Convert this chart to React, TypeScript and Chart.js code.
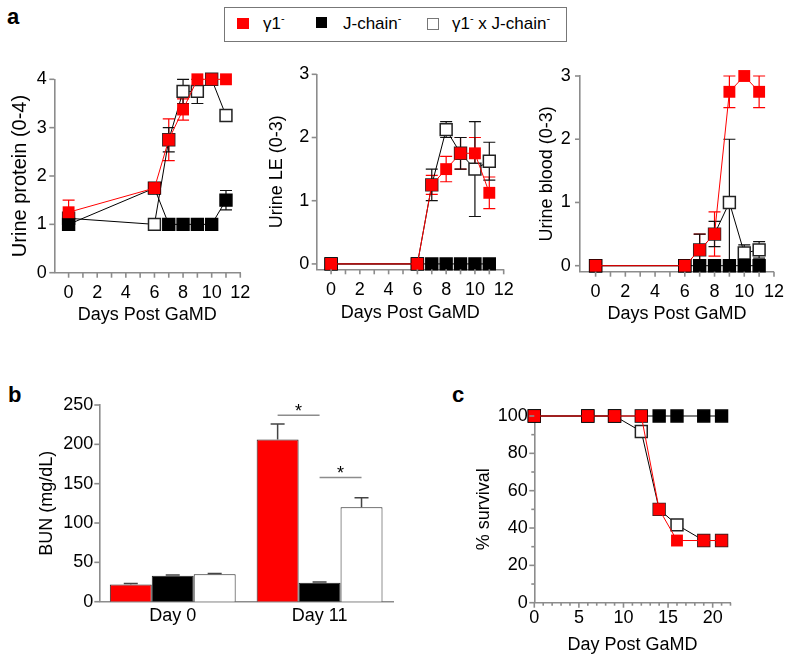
import React, { useEffect, useRef } from 'react';
import { Chart, registerables } from 'chart.js';
Chart.register(...registerables);

const FONT = "'Liberation Sans', Arial, Helvetica, sans-serif";
Chart.defaults.font.family = FONT;
Chart.defaults.color = '#000';

const RED = '#ff0000';
const AXIS = '#8c8c8c';
const AXW = 1.6;

// ---------- data ----------
const DAYS_A = [0, 6, 7, 8, 9, 10, 11];

const PROT_G1 = [1.25, 1.75, 2.75, 3.375, 4, 4, 4];
const PROT_G1_ERR = [0.25, 0, 0.43, 0.22, 0, 0, 0];
const PROT_J = [1, 1.75, 1, 1, 1, 1, 1.5];
const PROT_J_ERR = [0, 0, 0, 0, 0, 0, 0.2];
const PROT_GJ = [1.125, 1, 2.75, 3.75, 3.75, 4, 3.25];
const PROT_GJ_ERR = [0, 0, 0.25, 0.25, 0.25, 0, 0.1];

const LE_G1 = [0, 0, 1.25, 1.5, 1.75, 1.75, 1.125];
const LE_G1_ERR = [0, 0, 0.15, 0.2, 0.25, 0.25, 0.25];
const LE_J = [0, 0, 0, 0, 0, 0, 0];
const LE_J_ERR = [0, 0, 0, 0, 0, 0, 0];
const LE_GJ = [0, 0, 1.25, 2.125, 1.75, 1.5, 1.625];
const LE_GJ_ERR = [0, 0, 0.25, 0.125, 0.25, 0.75, 0.3];

const BLOOD_G1 = [0, 0, 0.25, 0.5, 2.75, 3, 2.75];
const BLOOD_G1_ERR = [0, 0, 0.25, 0.35, 0.25, 0, 0.25];
const BLOOD_J = [0, 0, 0, 0, 0, 0, 0];
const BLOOD_J_ERR = [0, 0, 0, 0, 0, 0, 0];
const BLOOD_GJ = [0, 0, 0.25, 0.5, 1, 0.2, 0.25];
const BLOOD_GJ_ERR = [0, 0, 0.25, 0.2, 1, 0.13, 0.13];

const A_X_TICKS = [0, 2, 4, 6, 8, 10, 12];
const A_X_MINOR = [1, 3, 5, 7, 9, 11];
const PROT_Y_TICKS = [0, 1, 2, 3, 4];
const SCORE3_Y_TICKS = [0, 1, 2, 3];

const BUN_CATS = ['Day 0', 'Day 11'];
const BUN_G1 = [22, 206];
const BUN_G1_ERR = [1, 20];
const BUN_J = [33, 24];
const BUN_J_ERR = [1, 1];
const BUN_GJ = [35, 120];
const BUN_GJ_ERR = [1, 12];
const BUN_Y_TICKS = [0, 50, 100, 150, 200, 250];
const BUN_SIG = [237, 158]; // Day 11: γ1 vs J-chain, J-chain vs γ1 x J-chain

const DAYS_C = [0, 6, 9, 12, 14, 16, 19, 21];
const SURV_G1 = [100, 100, 100, 100, 50, 33.3, 33.3, 33.3];
const SURV_J = [100, 100, 100, 100, 100, 100, 100, 100];
const SURV_GJ = [100, 100, 100, 91.7, 50, 41.7, 33.3, 33.3];
const C_X_TICKS = [0, 5, 10, 15, 20];
const C_X_MINOR = [1, 2, 3, 4, 6, 7, 8, 9, 11, 12, 13, 14, 16, 17, 18, 19, 21, 22];
const C_Y_TICKS = [0, 20, 40, 60, 80, 100];
const C_Y_MINOR = [10, 30, 50, 70, 90];

// ---------- plugins ----------
function drawErr(chart: any, after: boolean) {
  const ctx = chart.ctx;
  const ys = chart.scales.y;
  chart.data.datasets.forEach((ds: any, i: number) => {
    if (!ds.errs || !!ds.errAfter !== after) return;
    const meta = chart.getDatasetMeta(i);
    ctx.save();
    ctx.strokeStyle = ds.errColor;
    ctx.lineWidth = ds.errWidth || 1.2;
    const cap = ds.errCap || 6;
    meta.data.forEach((el: any, j: number) => {
      const e = ds.errs[j];
      if (!e) return;
      const raw = ds.data[j];
      const v = typeof raw === 'number' ? raw : raw.y;
      const x = el.x;
      const yt = ys.getPixelForValue(v + e);
      const yb = ds.oneSided ? ys.getPixelForValue(v) : ys.getPixelForValue(v - e);
      ctx.beginPath();
      ctx.moveTo(x, yt);
      ctx.lineTo(x, yb);
      ctx.moveTo(x - cap, yt);
      ctx.lineTo(x + cap, yt);
      if (!ds.oneSided) {
        ctx.moveTo(x - cap, yb);
        ctx.lineTo(x + cap, yb);
      }
      ctx.stroke();
    });
    ctx.restore();
  });
}
const errPlugin = {
  id: 'errBars',
  beforeDatasetsDraw(chart: any) { drawErr(chart, false); },
  afterDatasetsDraw(chart: any) { drawErr(chart, true); },
};

function makeTickPlugin(t: any) {
  return {
    id: 'tickMarks',
    afterDraw(chart: any) {
      const { ctx, chartArea: ca, scales } = chart;
      ctx.save();
      ctx.strokeStyle = AXIS;
      ctx.lineWidth = AXW;
      const hx = (vals: number[] | undefined, len: number) =>
        (vals || []).forEach((v) => {
          const p = scales.x.getPixelForValue(v);
          ctx.beginPath();
          ctx.moveTo(p, ca.bottom);
          ctx.lineTo(p, ca.bottom + len);
          ctx.stroke();
        });
      const hy = (vals: number[] | undefined, len: number) =>
        (vals || []).forEach((v) => {
          const p = scales.y.getPixelForValue(v);
          ctx.beginPath();
          ctx.moveTo(ca.left, p);
          ctx.lineTo(ca.left - len, p);
          ctx.stroke();
        });
      hx(t.xMajor, t.xMajorLen || 5);
      hx(t.xMinor, t.xMinorLen || 5);
      hy(t.yMajor, t.yMajorLen || 5);
      hy(t.yMinor, t.yMinorLen || 3);
      ctx.restore();
    },
  };
}

const sigPlugin = {
  id: 'sig',
  afterDatasetsDraw(chart: any) {
    const ctx = chart.ctx;
    const ys = chart.scales.y;
    const m0 = chart.getDatasetMeta(0).data[1];
    const m1 = chart.getDatasetMeta(1).data[1];
    const m2 = chart.getDatasetMeta(2).data[1];
    const pairs = [[m0.x, m1.x, BUN_SIG[0]], [m1.x, m2.x, BUN_SIG[1]]];
    ctx.save();
    pairs.forEach(([a, b, v]) => {
      const y = ys.getPixelForValue(v);
      ctx.strokeStyle = AXIS;
      ctx.lineWidth = 1.5;
      ctx.beginPath();
      ctx.moveTo(a, y);
      ctx.lineTo(b, y);
      ctx.stroke();
      ctx.fillStyle = '#000';
      ctx.font = `18px ${FONT}`;
      ctx.textAlign = 'center';
      ctx.textBaseline = 'alphabetic';
      ctx.fillText('*', (a + b) / 2, y + 2);
    });
    ctx.restore();
  },
};

// ---------- helpers ----------
function lineSets(x: number[], g1: number[], g1e: number[], j: number[], je: number[], gj: number[], gje: number[], errCap = 6) {
  const pts = (ys: number[]) => x.map((d, i) => ({ x: d, y: ys[i] }));
  const common = { showLine: true, borderWidth: 1, pointStyle: 'rect', pointRadius: 8.4, pointHoverRadius: 8.4, clip: false, fill: false, tension: 0, errCap };
  return [
    { ...common, label: 'γ1-', data: pts(g1), errs: g1e, errColor: RED, borderColor: RED, pointBackgroundColor: RED, pointBorderColor: RED, pointBorderWidth: 0 },
    { ...common, label: 'J-chain-', data: pts(j), errs: je, errColor: '#111', borderColor: '#000', pointBackgroundColor: '#000', pointBorderColor: '#000', pointBorderWidth: 1.5 },
    { ...common, label: 'γ1- x J-chain-', data: pts(gj), errs: gje, errColor: '#111', borderColor: '#000', pointBackgroundColor: '#fff', pointBorderColor: '#222', pointBorderWidth: 1.5 },
  ];
}

function xAxis(o: any) {
  return {
    type: o.type || 'linear',
    min: o.min,
    max: o.max,
    grid: { display: false, drawTicks: false },
    border: { display: true, color: AXIS, width: AXW },
    afterBuildTicks: o.ticks ? (s: any) => { s.ticks = o.ticks.map((v: number) => ({ value: v })); } : undefined,
    afterFit: (s: any) => { s.height = o.H; },
    ticks: { autoSkip: false, maxRotation: 0, minRotation: 0, padding: o.pad, font: { size: 18 }, color: '#000' },
    title: o.title
      ? { display: true, text: o.title, font: { size: 18 }, color: '#000', padding: { top: 0, bottom: o.titlePad } }
      : { display: false },
  };
}
function yAxis(o: any) {
  return {
    type: 'linear',
    min: o.min,
    max: o.max,
    grid: { display: false, drawTicks: false },
    border: { display: true, color: AXIS, width: AXW },
    afterBuildTicks: (s: any) => { s.ticks = o.ticks.map((v: number) => ({ value: v })); },
    afterFit: (s: any) => { s.width = o.W; },
    ticks: { autoSkip: false, padding: o.pad, font: { size: 18 }, color: '#000' },
    title: { display: true, text: o.title, font: { size: o.titleSize || 18 }, color: '#000', padding: { top: o.titlePad, bottom: 0 } },
  };
}

function baseOptions(R: number, T: number, scales: any) {
  return {
    responsive: false,
    animation: false,
    events: [],
    layout: { padding: { left: 0, right: R, top: T, bottom: 0 } },
    plugins: { legend: { display: false }, tooltip: { enabled: false } },
    scales,
  };
}

// ---------- configs ----------
function configProtein() {
  return {
    type: 'line',
    data: { datasets: lineSets(DAYS_A, PROT_G1, PROT_G1_ERR, PROT_J, PROT_J_ERR, PROT_GJ, PROT_GJ_ERR) },
    options: baseOptions(10.7, 29.3, {
      x: xAxis({ min: -1, max: 12, ticks: A_X_TICKS, H: 57.3, pad: 9.7, title: 'Days Post GaMD', titlePad: 4.2 }),
      y: yAxis({ min: 0, max: 4, ticks: PROT_Y_TICKS, W: 54.3, pad: 7.6, title: 'Urine protein (0-4)', titleSize: 20, titlePad: 8 }),
    }),
    plugins: [errPlugin, makeTickPlugin({ xMajor: A_X_TICKS, xMinor: A_X_MINOR, yMajor: PROT_Y_TICKS })],
  };
}
function configLE() {
  return {
    type: 'line',
    data: { datasets: lineSets(DAYS_A, LE_G1, LE_G1_ERR, LE_J, LE_J_ERR, LE_GJ, LE_GJ_ERR) },
    options: baseOptions(11.7, 24.3, {
      x: xAxis({ min: -1, max: 12, ticks: A_X_TICKS, H: 60.7, pad: 10.3, title: 'Days Post GaMD', titlePad: 5.9 }),
      y: yAxis({ min: -0.085, max: 3, ticks: SCORE3_Y_TICKS, W: 54.7, pad: 7.4, title: 'Urine LE (0-3)', titlePad: 4.2 }),
    }),
    plugins: [errPlugin, makeTickPlugin({ xMajor: A_X_TICKS, xMinor: A_X_MINOR, yMajor: SCORE3_Y_TICKS })],
  };
}
function configBlood() {
  return {
    type: 'line',
    data: { datasets: lineSets(DAYS_A, BLOOD_G1, BLOOD_G1_ERR, BLOOD_J, BLOOD_J_ERR, BLOOD_GJ, BLOOD_GJ_ERR) },
    options: baseOptions(18, 26, {
      x: xAxis({ min: -1.05, max: 12, ticks: A_X_TICKS, H: 58.3, pad: 10, title: 'Days Post GaMD', titlePad: 5.2 }),
      y: yAxis({ min: -0.095, max: 3, ticks: SCORE3_Y_TICKS, W: 56, pad: 9.3, title: 'Urine blood (0-3)', titlePad: 12.5 }),
    }),
    plugins: [errPlugin, makeTickPlugin({ xMajor: A_X_TICKS, xMinor: A_X_MINOR, yMajor: SCORE3_Y_TICKS })],
  };
}
function configBUN() {
  const bar = { borderColor: '#222', borderWidth: 1, barPercentage: 1, categoryPercentage: 0.857, errAfter: true, oneSided: true, errColor: '#444', errCap: 7, errWidth: 1.5 };
  return {
    type: 'bar',
    data: {
      labels: BUN_CATS,
      datasets: [
        { ...bar, label: 'γ1-', data: BUN_G1, errs: BUN_G1_ERR, backgroundColor: RED },
        { ...bar, label: 'J-chain-', data: BUN_J, errs: BUN_J_ERR, backgroundColor: '#000' },
        { ...bar, label: 'γ1- x J-chain-', data: BUN_GJ, errs: BUN_GJ_ERR, backgroundColor: '#fff' },
      ],
    },
    options: baseOptions(17, 35, {
      x: xAxis({ type: 'category', H: 62.3, pad: 3.3 }),
      y: yAxis({ min: 0, max: 250, ticks: BUN_Y_TICKS, W: 99.3, pad: 6, title: 'BUN (mg/dL)', titlePad: 35.9 }),
    }),
    plugins: [errPlugin, sigPlugin, makeTickPlugin({ yMajor: BUN_Y_TICKS })],
  };
}
function configSurvival() {
  return {
    type: 'line',
    data: { datasets: lineSets(DAYS_C, SURV_G1, [], SURV_J, [], SURV_GJ, []) },
    options: baseOptions(63.5, 46, {
      x: xAxis({ min: 0, max: 22, ticks: C_X_TICKS, H: 61.3, pad: 4.3, title: 'Day Post GaMD', titlePad: 7.9 }),
      y: yAxis({ min: 0, max: 100, ticks: C_Y_TICKS, W: 114.3, pad: 6.6, title: '% survival', titlePad: 52.9 }),
    }),
    plugins: [makeTickPlugin({ xMajor: C_X_TICKS, xMinor: C_X_MINOR, xMajorLen: 5, xMinorLen: 3, yMajor: C_Y_TICKS, yMinor: C_Y_MINOR, yMajorLen: 5, yMinorLen: 3 })],
  };
}

function ChartBox({ left, top, width, height, make }: any) {
  const ref = useRef<HTMLCanvasElement>(null);
  useEffect(() => {
    if (!ref.current) return;
    const chart = new Chart(ref.current, make() as any);
    return () => chart.destroy();
  }, []);
  return (
    <div style={{ position: 'absolute', left, top, width, height }}>
      <canvas ref={ref} width={width} height={height} style={{ width, height, display: 'block' }} />
    </div>
  );
}

const textStyle: React.CSSProperties = { position: 'absolute', fontSize: 17, lineHeight: '20px', whiteSpace: 'nowrap', color: '#000' };
const supStyle: React.CSSProperties = { fontSize: 11, position: 'relative', top: -7 };
const panelLabel: React.CSSProperties = { position: 'absolute', fontSize: 22, lineHeight: '22px', fontWeight: 'bold', color: '#000' };

export default function App() {
  return (
    <div style={{ position: 'absolute', left: 0, top: 0, width: 794, height: 664, background: '#fff', fontFamily: FONT, overflow: 'hidden' }}>
      {/* legend */}
      <div style={{ position: 'absolute', left: 224, top: 7, width: 343, height: 35, border: '1px solid #777', boxSizing: 'border-box' }} />
      <div style={{ position: 'absolute', left: 237, top: 18, width: 12, height: 11, background: RED }} />
      <div style={{ ...textStyle, left: 263, top: 14 }}>γ1<span style={supStyle}>-</span></div>
      <div style={{ position: 'absolute', left: 316, top: 17, width: 11, height: 11, background: '#000' }} />
      <div style={{ ...textStyle, left: 343, top: 14 }}>J-chain<span style={supStyle}>-</span></div>
      <div style={{ position: 'absolute', left: 427, top: 18, width: 10, height: 10, background: '#fff', border: '1px solid #777' }} />
      <div style={{ ...textStyle, left: 452, top: 14 }}>γ1<span style={supStyle}>-</span> x J-chain<span style={supStyle}>-</span></div>

      <div style={{ ...panelLabel, left: 7, top: 6 }}>a</div>
      <div style={{ ...panelLabel, left: 8, top: 384 }}>b</div>
      <div style={{ ...panelLabel, left: 452, top: 384 }}>c</div>

      <ChartBox left={0} top={50} width={260} height={280} make={configProtein} />
      <ChartBox left={262} top={50} width={262} height={280} make={configLE} />
      <ChartBox left={524} top={50} width={270} height={280} make={configBlood} />
      <ChartBox left={0} top={370} width={410} height={294} make={configBUN} />
      <ChartBox left={420} top={370} width={374} height={294} make={configSurvival} />
    </div>
  );
}
